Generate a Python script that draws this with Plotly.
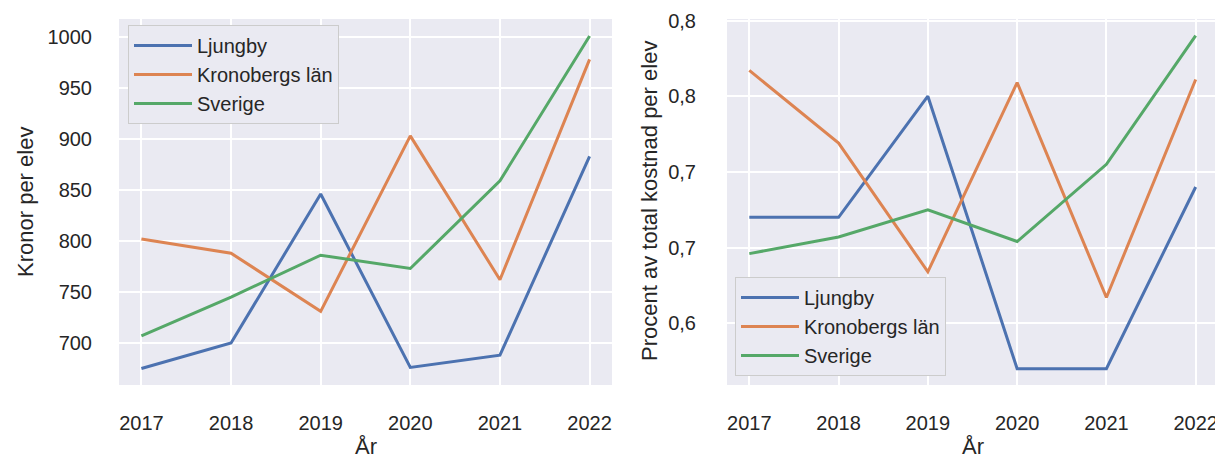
import plotly.graph_objects as go

years = [2017, 2018, 2019, 2020, 2021, 2022]
series_names = ["Ljungby", "Kronobergs län", "Sverige"]

kr_ljungby = [675, 700, 846, 676, 688, 883]
kr_kronoberg = [802, 788, 731, 903, 762, 978]
kr_sverige = [707, 745, 786, 773, 859, 1001]

pct_ljungby = [0.670, 0.670, 0.750, 0.570, 0.570, 0.690]
pct_kronoberg = [0.767, 0.719, 0.634, 0.759, 0.617, 0.761]
pct_sverige = [0.646, 0.657, 0.675, 0.654, 0.705, 0.790]

left_yticks = [700, 750, 800, 850, 900, 950, 1000]
right_yticks = [0.60, 0.65, 0.70, 0.75, 0.80]
right_yticktext = ["0,6", "0,7", "0,7", "0,8", "0,8"]

colors = ["#4c72b0", "#dd8452", "#55a868"]
W, H = 1223, 461
OFF = 8  # page body offset
FONT = "Liberation Sans, Arial, sans-serif"
TXT = "#262626"

fig = go.Figure()
for name, vals, c in zip(series_names, [kr_ljungby, kr_kronoberg, kr_sverige], colors):
    fig.add_trace(go.Scatter(x=years, y=vals, mode="lines", name=name,
                             line=dict(color=c, width=3),
                             xaxis="x", yaxis="y", legend="legend"))
for name, vals, c in zip(series_names, [pct_ljungby, pct_kronoberg, pct_sverige], colors):
    fig.add_trace(go.Scatter(x=years, y=vals, mode="lines", name=name,
                             line=dict(color=c, width=3),
                             xaxis="x2", yaxis="y2", legend="legend2"))

def px_x(v):
    return (v - OFF) / W

def px_y(v):
    return 1 - (v - OFF) / H

axis_common = dict(showgrid=True, gridcolor="white", gridwidth=1.5, zeroline=False,
                   showline=False, ticks="", automargin=False,
                   tickfont=dict(size=20, color=TXT, family=FONT))

legend_common = dict(xanchor="left", yanchor="top", bgcolor="#eaeaf2",
                     bordercolor="#cccccc", borderwidth=1, itemwidth=58,
                     font=dict(size=20, color=TXT, family=FONT))

title_font = dict(size=22, color=TXT, family=FONT)

fig.update_layout(
    width=W, height=H,
    margin=dict(l=0, r=0, t=0, b=0, autoexpand=False),
    paper_bgcolor="white",
    plot_bgcolor="#eaeaf2",
    font=dict(family=FONT, color=TXT),
    xaxis=dict(domain=[px_x(119), px_x(612)], range=[2016.75, 2022.25],
               tickvals=years, ticklabelstandoff=24, anchor="y", **axis_common),
    yaxis=dict(domain=[px_y(385), px_y(19)], range=[658.8, 1017.6],
               tickvals=left_yticks, ticklabelstandoff=26, anchor="x", **axis_common),
    xaxis2=dict(domain=[px_x(727), px_x(1218)], range=[2016.75, 2022.25],
                tickvals=years, ticklabelstandoff=24, anchor="y2", **axis_common),
    yaxis2=dict(domain=[px_y(385), px_y(19)], range=[0.5592, 0.801],
                tickvals=right_yticks, ticktext=right_yticktext,
                ticklabelstandoff=30, anchor="x2", **axis_common),
    legend=dict(x=px_x(128), y=px_y(25), **legend_common),
    legend2=dict(x=px_x(735), y=px_y(277), **legend_common),
    annotations=[
        dict(text="Kronor per elev", x=px_x(25), y=px_y(202), xref="paper", yref="paper",
             xanchor="center", yanchor="middle",
             textangle=-90, showarrow=False, font=title_font),
        dict(text="Procent av total kostnad per elev", x=px_x(649), y=px_y(201),
             xref="paper", yref="paper", xanchor="center", yanchor="middle",
             textangle=-90, showarrow=False, font=title_font),
        dict(text="År", x=px_x(366), y=px_y(446), xref="paper", yref="paper",
             xanchor="center", yanchor="middle", showarrow=False, font=title_font),
        dict(text="År", x=px_x(973), y=px_y(446), xref="paper", yref="paper",
             xanchor="center", yanchor="middle", showarrow=False, font=title_font),
    ],
)

fig.write_html("out.html")
